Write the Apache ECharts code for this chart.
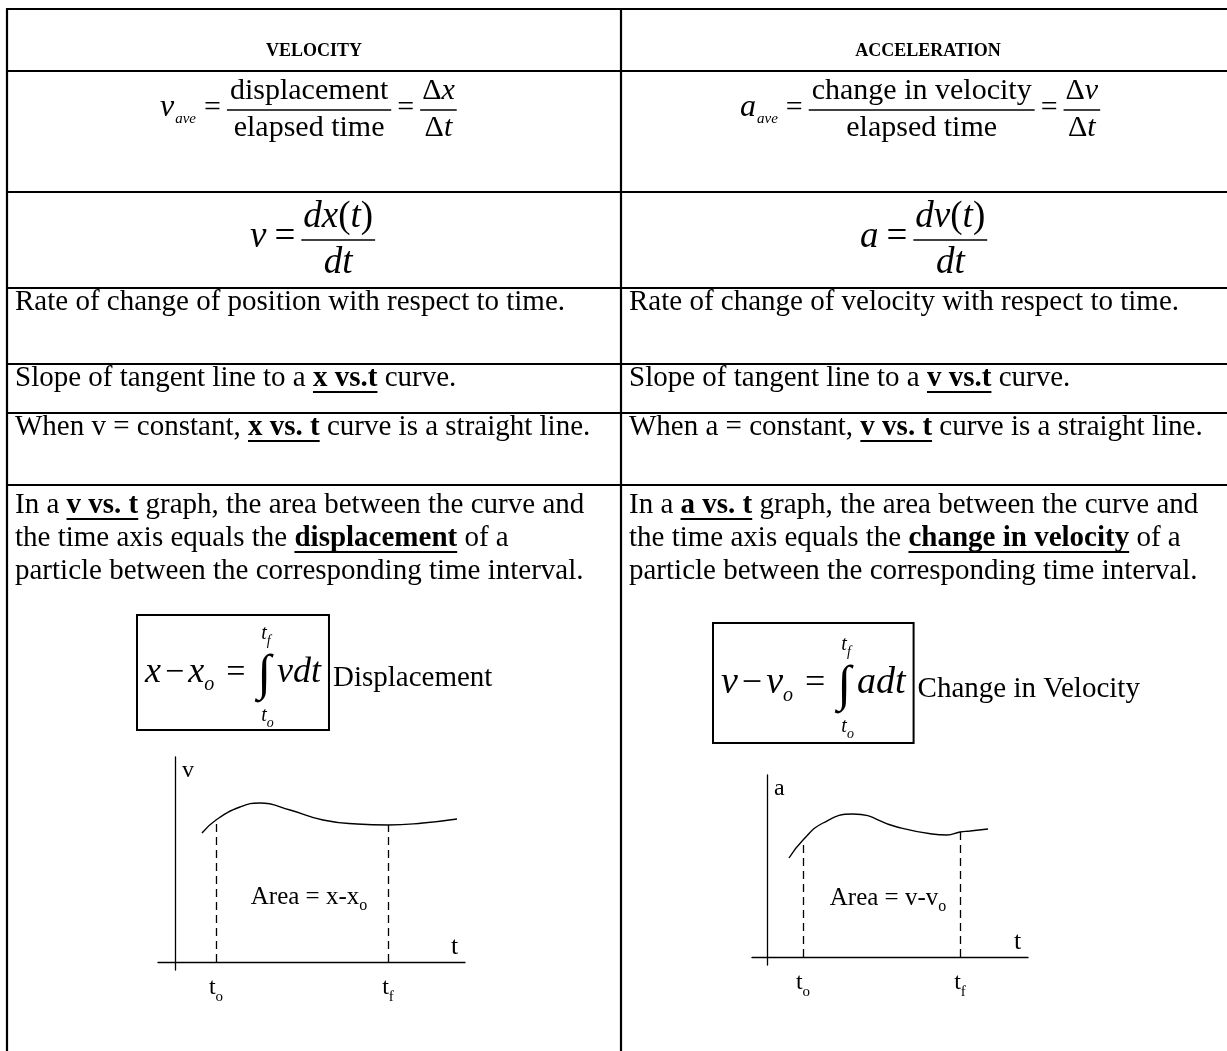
<!DOCTYPE html>
<html>
<head>
<meta charset="utf-8">
<script src="https://cdn.jsdelivr.net/npm/echarts@6/dist/echarts.min.js"></script>
<style>
html, body { margin: 0; padding: 0; background: #fff; }
#container { width: 1227px; height: 1051px; }
</style>
</head>
<body>
<div id="container"></div>
<script>
(function () {
    const FONT = '"Liberation Serif", "Times New Roman", serif';

    // ---- table content ----
    const headers = ['VELOCITY', 'ACCELERATION'];
    const rateText = [
        'Rate of change of position with respect to time.',
        'Rate of change of velocity with respect to time.'
    ];
    // {u: ...} = bold + underlined run
    const slopeText = [
        ['Slope of tangent line to a ', { u: 'x vs.t' }, ' curve.'],
        ['Slope of tangent line to a ', { u: 'v vs.t' }, ' curve.']
    ];
    const constText = [
        ['When v = constant, ', { u: 'x vs. t' }, ' curve is a straight line.'],
        ['When a = constant, ', { u: 'v vs. t' }, ' curve is a straight line.']
    ];
    const areaText = [
        [
            ['In a ', { u: 'v vs. t' }, ' graph, the area between the curve and'],
            ['the time axis equals the ', { u: 'displacement' }, ' of a'],
            ['particle between the corresponding time interval.']
        ],
        [
            ['In a ', { u: 'a vs. t' }, ' graph, the area between the curve and'],
            ['the time axis equals the ', { u: 'change in velocity' }, ' of a'],
            ['particle between the corresponding time interval.']
        ]
    ];
    const boxLabels = ['Displacement', 'Change in Velocity'];

    // ---- sketch graphs (t, value) ----
    const velCurve = [[2.7, 12.9], [4.1, 14.2], [6.5, 15.5], [8.5, 15.9], [11.5, 15.2],
        [14.8, 14.2], [18.2, 13.8], [21.3, 13.7], [24.8, 13.9], [28.2, 14.3]];
    const accCurve = [[2.2, 9.9], [3.6, 11.7], [5.6, 13.4], [8.6, 14.3], [13.0, 13.0],
        [16.5, 12.3], [18.0, 12.2], [19.3, 12.5], [20.3, 12.6], [22.1, 12.8]];
    const velMarks = [4.1, 21.3];
    const accMarks = [3.6, 19.3];
    const areaLabelAt = [[13.4, 6.5], [12.1, 5.9]];
    const areaLabels = [['Area = x-x', 'o'], ['Area = v-v', 'o']];
    const graphNames = [['v', 't'], ['a', 't']];

    // ---- layout ----
    const colX = [7, 621];
    const rowLines = [9, 71, 192, 288, 364, 413, 485];
    const BODY = 29;

    const ctx = document.createElement('canvas').getContext('2d');
    const fontStr = (size, bold, italic) => (italic ? 'italic ' : '') + (bold ? 'bold ' : '') + size + 'px ' + FONT;
    const textW = (s, f) => { ctx.font = f; return ctx.measureText(s).width; };

    const g = [];
    const line = (x1, y1, x2, y2, w) => g.push({
        type: 'line', silent: true,
        shape: { x1: x1, y1: y1, x2: x2, y2: y2 },
        style: { stroke: '#000', lineWidth: w || 2 }
    });
    // put text with its alphabetic baseline at y
    const put = (x, base, s, f, size, align) => g.push({
        type: 'text', silent: true, x: x, y: base - 0.34 * size,
        style: { text: s, font: f, fill: '#000', align: align || 'left', verticalAlign: 'middle' }
    });

    const runs = (x, base, parts, size) => {
        let cx = x;
        parts.forEach(p => {
            const isU = typeof p !== 'string';
            const s = isU ? p.u : p;
            const f = fontStr(size, isU, false);
            put(cx, base, s, f, size);
            const w = textW(s, f);
            if (isU) line(cx, base + 4, cx + w, base + 4, 2);
            cx += w;
        });
        return cx;
    };

    // math sequence: [text, size, italic, dy] or a number gap
    const seqW = items => items.reduce((a, it) => typeof it === 'number' ? a + it : a + textW(it[0], fontStr(it[1], false, it[2])), 0);
    const seq = (x, base, items) => {
        let cx = x;
        items.forEach(it => {
            if (typeof it === 'number') { cx += it; return; }
            const f = fontStr(it[1], false, it[2]);
            put(cx, base + (it[3] || 0), it[0], f, it[1]);
            cx += textW(it[0], f);
        });
        return cx;
    };
    const frac = (x, barY, num, den, numBase, denBase, pad) => {
        const wn = seqW(num), wd = seqW(den), w = Math.max(wn, wd) + pad;
        seq(x + (w - wn) / 2, numBase, num);
        seq(x + (w - wd) / 2, denBase, den);
        line(x, barY, x + w, barY, 1.4);
        return x + w;
    };

    // table rules
    rowLines.forEach(y => line(colX[0] - 1, y, 1227, y, 2.2));
    line(colX[0], rowLines[0], colX[0], 1051, 2.2);
    line(colX[1], rowLines[0], colX[1], 1051, 2.2);

    // headers
    const colCenter = [314, 928];
    headers.forEach((h, i) => put(colCenter[i], 57, h, fontStr(18, true, false), 18, 'center'));

    // average formulas
    const aveStart = [160, 740];
    const aveSym = ['v', 'a'];
    const aveNum = ['displacement', 'change in velocity'];
    const aveD = ['x', 'v'];
    aveStart.forEach((x0, i) => {
        let c = seq(x0, 118, [[aveSym[i], 32, true]]);
        c = seq(c + 1, 124, [['ave', 15, true]]);
        c = seq(c + 8, 118, [['=', 30, false]]);
        c = frac(c + 6, 110, [[aveNum[i], 30, false]], [['elapsed time', 30, false]], 101, 138, 6);
        c = seq(c + 6, 118, [['=', 30, false]]);
        frac(c + 6, 110, [['Δ', 30, false], [aveD[i], 30, true]], [['Δ', 30, false], ['t', 30, true]], 101, 138, 4);
    });

    // derivative formulas
    const derStart = [250, 860];
    const derSym = ['v', 'a'];
    const derNum = ['dx', 'dv'];
    derStart.forEach((x0, i) => {
        let c = seq(x0, 250, [[derSym[i], 37, true], 8, ['=', 37, false]]);
        frac(c + 6, 240, [[derNum[i], 37, true], ['(', 37, false], ['t', 37, true], [')', 37, false]],
            [['dt', 37, true]], 230, 276, 4);
    });

    // body rows
    [0, 1].forEach(i => {
        const x = colX[i] + 8;
        runs(x, rowLines[3] + 24, [rateText[i]], BODY);
        runs(x, rowLines[4] + 24, slopeText[i], BODY);
        runs(x, rowLines[5] + 24, constText[i], BODY);
        areaText[i].forEach((ln, k) => runs(x, rowLines[6] + 30 + 33 * k, ln, BODY));
    });

    // boxed integral formulas
    const boxStart = [145, 721];
    const boxBase = [685, 696];
    const boxSize = [36, 38];
    const boxTop = [615, 623];
    const boxBottom = [730, 743];
    const boxVar = ['x', 'v'];
    const boxInt = ['vdt', 'adt'];
    boxStart.forEach((x0, i) => {
        const b = boxBase[i], s = boxSize[i];
        let c = seq(x0, b, [[boxVar[i], s, true], 4, ['−', s - 2, false], 4, [boxVar[i], s, true], ['o', 20, true, 7], 12, ['=', s - 2, false], 12]);
        put(c, b + 8, '∫', fontStr(50, false, false), 50);
        const iw = textW('∫', fontStr(50, false, false));
        seq(c + 4, b - 44, [['t', 20, true], ['f', 14, true, 5]]);
        seq(c + 4, b + 38, [['t', 20, true], ['o', 14, true, 5]]);
        c = seq(c + iw + 6, b, [[boxInt[i], s, true]]);
        g.push({
            type: 'rect', silent: true,
            shape: { x: x0 - 8, y: boxTop[i], width: c + 8 - (x0 - 8), height: boxBottom[i] - boxTop[i] },
            style: { fill: 'none', stroke: '#000', lineWidth: 2 }
        });
        runs(c + 12, b + 3, [boxLabels[i]], BODY);
    });

    // ---- sketch graphs through echarts axes ----
    const gridDefs = [
        { left: 158, right: 762, top: 757, bottom: 81, xMin: -1.7, xMax: 29, yMin: -0.8, yMax: 20.5 },
        { left: 752, right: 199, top: 775, bottom: 86, xMin: -1.5, xMax: 26.1, yMin: -0.8, yMax: 18.2 }
    ];
    const curves = [velCurve, accCurve];
    const marks = [velMarks, accMarks];
    const axisLine = { onZero: true, lineStyle: { color: '#000', width: 1.3 } };
    const subRich = {
        t: { fontFamily: FONT, fontSize: 24, color: '#000', lineHeight: 24, verticalAlign: 'top' },
        s: { fontFamily: FONT, fontSize: 15, color: '#000', lineHeight: 15, padding: [14, 0, 0, 0], verticalAlign: 'top' }
    };

    const option = {
        animation: false,
        grid: gridDefs.map(d => ({ left: d.left, right: d.right, top: d.top, bottom: d.bottom })),
        xAxis: gridDefs.map((d, i) => ({
            gridIndex: i, type: 'value', min: d.xMin, max: d.xMax,
            axisLine: axisLine, axisTick: { show: false }, splitLine: { show: false },
            axisLabel: {
                show: true, customValues: marks[i], margin: 6,
                formatter: v => v === marks[i][0] ? '{t|t}{s|o}' : '{t|t}{s|f}',
                rich: subRich
            },
            name: graphNames[i][1], nameLocation: 'end', nameGap: -14,
            nameTextStyle: { fontFamily: FONT, fontSize: 26, color: '#000', align: 'left', verticalAlign: 'bottom', padding: [0, 0, 2, 0] }
        })),
        yAxis: gridDefs.map((d, i) => ({
            gridIndex: i, type: 'value', min: d.yMin, max: d.yMax,
            axisLine: axisLine, axisTick: { show: false }, splitLine: { show: false },
            axisLabel: { show: false },
            name: graphNames[i][0], nameLocation: 'end', nameGap: -26,
            nameTextStyle: { fontFamily: FONT, fontSize: 24, color: '#000', align: 'left', padding: [0, 0, 0, 7] }
        })),
        series: []
    };

    curves.forEach((data, i) => {
        const ends = marks[i].map(m => data.find(p => p[0] === m));
        option.series.push({
            type: 'line', xAxisIndex: i, yAxisIndex: i, data: data, smooth: 0.5,
            symbol: 'none', silent: true,
            lineStyle: { color: '#000', width: 1.4 },
            markLine: {
                silent: true, symbol: 'none', label: { show: false },
                lineStyle: { type: [8, 5], color: '#000', width: 1.3 },
                data: ends.map(p => [{ coord: [p[0], 0] }, { coord: [p[0], p[1]] }])
            }
        });
    });

    var dom = document.getElementById('container');
    var myChart = echarts.init(dom, null, { renderer: 'canvas' });
    myChart.setOption(option);

    // "Area = ..." labels placed through each grid's scales
    areaLabelAt.forEach((p, i) => {
        const px = myChart.convertToPixel({ gridIndex: i }, p);
        const f = fontStr(25, false, false), fs = fontStr(16, false, false);
        const w = textW(areaLabels[i][0], f) + textW(areaLabels[i][1], fs);
        const x0 = px[0] - w / 2;
        put(x0, px[1] + 9, areaLabels[i][0], f, 25);
        put(x0 + textW(areaLabels[i][0], f), px[1] + 14, areaLabels[i][1], fs, 16);
    });

    myChart.setOption({ graphic: { elements: g } });
})();
</script>
</body>
</html>
